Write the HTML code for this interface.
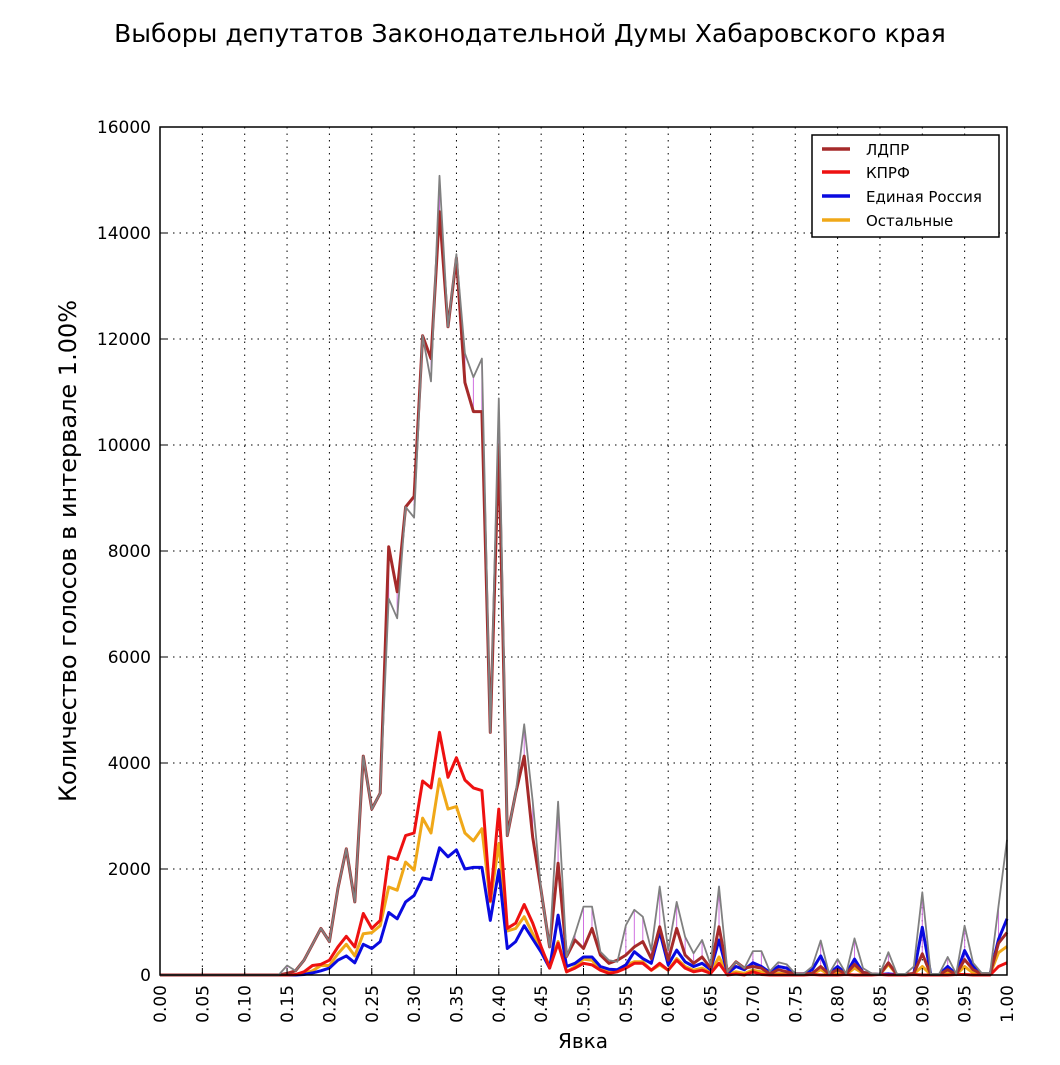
<!DOCTYPE html>
<html><head><meta charset="utf-8"><style>
body{margin:0;background:#fff;}
svg text{font-family:"DejaVu Sans","Liberation Sans",sans-serif;}
</style></head><body>
<svg id="chart" width="1060" height="1060" viewBox="0 0 1060 1060" xmlns="http://www.w3.org/2000/svg">
<rect width="1060" height="1060" fill="#fff"/>
<text x="530" y="42" font-size="25" text-anchor="middle">Выборы депутатов Законодательной Думы Хабаровского края</text>
<text transform="translate(76,551) rotate(-90)" font-size="24" text-anchor="middle">Количество голосов в интервале 1.00%</text>
<text x="583" y="1048" font-size="20" text-anchor="middle">Явка</text>
<g id="grid"></g><g id="series"></g><g id="axes"></g>
<g>
<rect x="812" y="135" width="187" height="102" fill="#fff" stroke="#000" stroke-width="1.5"/>
<g><line x1="822" y1="149" x2="850" y2="149" stroke="#a52a2a" stroke-width="3.5"/><text x="866" y="155" font-size="15">ЛДПР</text></g>
<g><line x1="822" y1="172" x2="850" y2="172" stroke="#ee1111" stroke-width="3.5"/><text x="866" y="178" font-size="15">КПРФ</text></g>
<g><line x1="822" y1="196" x2="850" y2="196" stroke="#0a0ae0" stroke-width="3.5"/><text x="866" y="202" font-size="15">Единая Россия</text></g>
<g><line x1="822" y1="220" x2="850" y2="220" stroke="#f0a818" stroke-width="3.5"/><text x="866" y="226" font-size="15">Остальные</text></g>
</g>
</svg>
<script>
const xTicks=["0.00","0.05","0.10","0.15","0.20","0.25","0.30","0.35","0.40","0.45","0.50","0.55","0.60","0.65","0.70","0.75","0.80","0.85","0.90","0.95","1.00"];
const yTicks=[0,2000,4000,6000,8000,10000,12000,14000,16000];
const z15=[0,0,0,0,0,0,0,0,0,0,0,0,0,0,0];
const total=z15.concat([180,80,280,580,880,630,1630,2380,1380,4130,3130,3430,7100,6730,8830,8630,12060,11200,15080,12230,13600,11730,11280,11630,4580,10880,2630,3430,4730,3280,1580,530,3270,350,775,1290,1290,440,280,250,940,1230,1100,470,1670,470,1380,720,410,660,190,1670,60,250,130,450,450,70,240,200,25,25,160,650,25,300,25,690,130,30,20,430,20,20,160,1560,20,20,340,20,930,230,40,40,1300,2550]);
const ldpr=z15.concat([30,80,280,580,880,630,1630,2380,1380,4130,3130,3430,8080,7230,8830,9030,12060,11630,14400,12230,13530,11180,10630,10630,4580,10000,2630,3430,4130,2600,1580,530,2110,350,660,500,880,375,220,280,375,530,630,310,910,280,880,375,220,340,130,910,60,250,130,160,130,20,100,60,20,20,30,160,20,100,20,200,50,20,10,230,10,10,30,400,10,10,100,10,290,100,20,20,600,800]);
const kprf=z15.concat([0,10,60,180,200,280,530,730,530,1160,880,1030,2230,2180,2630,2680,3660,3530,4580,3730,4100,3680,3530,3480,1400,3130,880,980,1330,980,530,130,600,60,130,220,190,90,30,60,130,220,220,90,220,90,280,130,60,90,30,220,0,20,0,60,10,0,0,0,0,0,10,0,0,0,10,0,0,0,10,0,0,0,10,0,0,0,0,10,10,0,0,0,160,230]);
const er=z15.concat([0,0,10,40,80,130,280,360,230,580,500,630,1180,1060,1380,1500,1830,1800,2400,2230,2360,2000,2030,2030,1030,1980,500,630,930,680,430,130,1130,160,220,340,340,160,110,100,190,440,310,220,820,190,470,250,160,220,100,660,30,160,100,230,160,50,160,130,20,20,100,360,20,160,20,300,50,20,10,20,10,10,20,900,10,10,160,10,460,160,20,20,670,1060]);
const others=z15.concat([0,0,30,80,180,180,400,580,360,780,800,930,1660,1600,2130,1980,2960,2680,3700,3130,3180,2680,2530,2760,1380,2480,830,880,1100,780,480,180,630,60,160,300,280,110,60,100,190,250,250,90,190,90,310,160,90,130,40,340,20,60,30,90,60,10,30,20,10,10,20,100,10,40,10,130,30,10,10,200,10,10,20,160,10,10,40,10,160,40,20,20,420,540]);

const NS="http://www.w3.org/2000/svg";
const L=160,R=1007,T=127,B=975;
const xs=v=>L+(R-L)*v;
const ys=v=>B-(B-T)*v/16000;
function mk(tag,attrs,parent){const e=document.createElementNS(NS,tag);for(const k in attrs)e.setAttribute(k,attrs[k]);parent.appendChild(e);return e;}
const grid=document.getElementById('grid'),axes=document.getElementById('axes'),ser=document.getElementById('series');
xTicks.forEach(t=>{const x=xs(parseFloat(t));
 const g=mk('line',{x1:x,x2:x,y1:T,y2:B,stroke:'#000','stroke-width':1,'stroke-dasharray':'1.5,5'},grid);
 
 
 const tk=mk('line',{x1:x,x2:x,y1:B,y2:B-7,stroke:'#000','stroke-width':1},axes);
 
 
 const tx=mk('text',{transform:`translate(${x+6},985) rotate(-90)`,'font-size':17,'text-anchor':'end'},axes);
 tx.textContent=t;
 
 
});
yTicks.forEach(t=>{const y=ys(t);
 const g=mk('line',{x1:L,x2:R,y1:y,y2:y,stroke:'#000','stroke-width':1,'stroke-dasharray':'1.5,5'},grid);
 
 
 const tk=mk('line',{x1:L,x2:L+7,y1:y,y2:y,stroke:'#000'},axes);
 
 
 const tx=mk('text',{x:L-9,y:y+6,'font-size':17,'text-anchor':'end'},axes);
 tx.textContent=t;
 
 
});
const fr=mk('rect',{x:L,y:T,width:R-L,height:B-T,fill:'none',stroke:'#000','stroke-width':1.5},axes);


const n=total.length;
const xv=i=>xs(i/100);
for(let i=0;i<n;i++){if(Math.abs(total[i]-ldpr[i])>50){
 const l=mk('line',{x1:xv(i),x2:xv(i),y1:ys(total[i]),y2:ys(ldpr[i]),stroke:'#d070e0','stroke-width':1},ser);
 
 }}
function line(arr,color,w,name){const d=arr.map((v,i)=>(i?'L':'M')+xv(i).toFixed(1)+','+ys(v).toFixed(1)).join('');
 const p=mk('path',{d:d,fill:'none',stroke:color,'stroke-width':w,'stroke-linejoin':'round'},ser);
 
 }
line(others,'#f0a818',3,'others-line');
line(er,'#0a0ae0',3,'er-line');
line(kprf,'#ee1111',3,'kprf-line');
line(ldpr,'#a52a2a',3,'ldpr-line');
line(total,'#808080',1.8,'total-line');
</script>
</body></html>
